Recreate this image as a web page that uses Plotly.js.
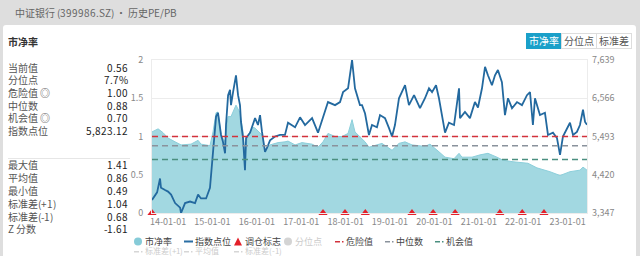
<!DOCTYPE html>
<html><head><meta charset="utf-8">
<script src="https://cdn.plot.ly/plotly-3.0.1.min.js"></script>
<style>
@font-face{font-family:"CJKTight";src:local("Noto Sans CJK SC"),local("Noto Sans CJK SC Regular"),local("NotoSansCJKsc-Regular");ascent-override:90%;descent-override:12%;line-gap-override:0%;font-weight:400}
@font-face{font-family:"CJKTight";src:local("Noto Sans CJK SC Bold"),local("NotoSansCJKsc-Bold"),local("Noto Sans CJK SC");ascent-override:90%;descent-override:12%;line-gap-override:0%;font-weight:700}
body{margin:0;width:640px;height:256px;overflow:hidden;background:#dedede;font-family:"CJKTight","Noto Sans CJK SC","Noto Sans",sans-serif;position:relative}
#hdr{position:absolute;left:15px;top:7px;font-size:10px;color:#666;white-space:nowrap;line-height:12px}
#card{position:absolute;left:3px;top:25px;width:633px;height:240px;background:#fff;border-radius:3px}
#chart{position:absolute;left:0;top:0;width:640px;height:256px;z-index:2}
#ttl{position:absolute;left:8px;top:36px;font-size:10px;font-weight:bold;color:#333;z-index:3;line-height:12px}
.btns{position:absolute;top:33px;left:527px;z-index:3;display:flex;font-size:10px}
.btns div{height:14px;line-height:14px;width:34px;text-align:center;border:1px solid #ddd;color:#555;background:#fff;margin-left:-1px}
.btns div.on{background:#1aa0c9;color:#fff;border-color:#1aa0c9}
.st{position:absolute;left:8px;width:120px;font-size:10px;z-index:3;height:12px;line-height:12px}
.st span.l{color:#555}.st span.v{position:absolute;right:0;color:#222}
#sep{position:absolute;left:8px;top:158px;width:122px;height:1px;background:#e6e6e6;z-index:3}
.lg{position:absolute;z-index:3;white-space:nowrap;height:9px;line-height:9px;padding-left:12px}
.lg svg{position:absolute}
</style></head><body>
<div id="card"></div>
<div id="hdr">中证银行 (399986.SZ) · 历史PE/PB</div>
<div id="ttl">市净率</div>
<div class="btns"><div class="on">市净率</div><div>分位点</div><div>标准差</div></div>
<div id="sep"></div>
<div id="chart"></div>
<script>
// ---- data ----
const pbDates = ['2013-08-22','2013-10-11','2013-11-21','2014-01-01','2014-02-28','2014-04-18','2014-07-09','2014-09-05','2014-09-29','2014-12-12',
 '2015-01-06','2015-01-31','2015-02-16','2015-03-13','2015-04-15','2015-05-10','2015-06-03','2015-07-14','2015-08-16','2015-09-10','2015-09-26','2015-10-21','2015-12-01','2015-12-18',
 '2016-02-13','2016-03-09','2016-04-19','2016-06-24','2016-08-20','2016-09-14','2016-11-11','2017-01-07','2017-03-31','2017-05-19','2017-06-29','2017-08-09','2017-10-06','2017-12-02',
 '2018-01-21','2018-02-23','2018-03-19','2018-04-29','2018-06-10','2018-07-12','2018-10-27','2019-01-18','2019-03-16','2019-05-05','2019-07-01','2019-10-16','2019-11-26',
 '2020-02-08','2020-03-29','2020-06-11','2020-07-22','2020-08-15','2020-11-06','2021-01-11','2021-03-17','2021-05-30','2021-07-19','2021-10-09',
 '2022-02-09','2022-04-24','2022-08-09','2022-10-31','2023-01-21','2023-04-13','2023-05-08','2023-06-10'];
const pbValues = [1.06,1.10,1.05,0.98,0.93,0.89,0.90,0.95,0.90,0.88,
 1.06,1.31,1.32,1.02,0.93,1.26,1.26,1.41,1.31,1.06,0.76,1.02,1.12,1.11,
 1.02,0.82,0.89,0.92,0.93,0.94,0.89,0.92,0.90,0.86,0.93,1.04,1.00,1.00,
 1.04,1.22,1.06,1.00,0.93,0.86,0.91,0.82,0.91,0.93,0.89,0.87,0.90,
 0.80,0.73,0.71,0.78,0.73,0.73,0.76,0.78,0.73,0.69,0.67,
 0.65,0.59,0.54,0.49,0.54,0.56,0.60,0.56];

const idxDates = ['2013-08-22','2013-09-08','2013-10-03','2013-10-27','2013-11-04','2013-12-07','2014-01-01','2014-01-26','2014-02-28','2014-04-10','2014-04-18',
 '2014-05-21','2014-07-01','2014-08-11','2014-09-05','2014-09-29','2014-11-10','2014-12-12','2015-01-06','2015-01-31','2015-02-16','2015-03-13','2015-03-29','2015-04-15',
 '2015-04-23','2015-05-10','2015-05-26','2015-06-03','2015-06-20','2015-07-14','2015-07-31','2015-08-16','2015-08-24','2015-09-10','2015-09-26','2015-10-05','2015-11-07',
 '2015-12-01','2015-12-18','2016-01-11','2016-01-28','2016-02-13','2016-03-09','2016-03-25','2016-04-19','2016-05-30','2016-07-10','2016-08-20','2016-09-14','2016-11-11',
 '2016-12-22','2017-02-01','2017-03-31','2017-05-19','2017-06-29','2017-08-09','2017-10-06','2017-11-16','2017-12-11','2018-01-21','2018-02-23','2018-03-19','2018-04-29',
 '2018-05-16','2018-06-10','2018-07-12','2018-08-06','2018-09-16','2018-10-11','2018-11-21','2018-12-24','2019-01-18','2019-02-11','2019-03-16','2019-05-05','2019-06-06',
 '2019-07-18','2019-09-05','2019-10-16','2019-11-18','2019-12-13','2020-01-15','2020-02-08','2020-03-04','2020-03-29','2020-04-30','2020-06-11','2020-07-22','2020-07-30',
 '2020-09-09','2020-10-20','2020-11-30','2020-12-25','2021-01-27','2021-02-21','2021-03-17','2021-04-19','2021-05-14','2021-06-07','2021-07-10','2021-08-04','2021-08-29',
 '2021-10-01','2021-11-11','2021-12-22','2022-02-01','2022-02-26','2022-03-22','2022-04-08','2022-05-19','2022-06-29','2022-07-24','2022-09-03','2022-10-06','2022-10-31',
 '2022-11-24','2022-12-27','2023-01-21','2023-02-15','2023-03-19','2023-04-13','2023-05-08','2023-05-25','2023-06-10'];
const idxValues = [3712,3798,3926,4313,4055,3991,3948,3862,3626,3497,3347,
 3626,3669,3626,3862,3755,3755,4055,4978,6051,6158,5536,5343,5021,
 5815,6652,6802,6373,6738,7210,6652,6373,5901,5450,4549,5450,5600,
 5815,6008,5815,6094,5622,5064,5171,5386,5493,5536,5536,5879,5751,
 6030,5815,6008,5600,6008,6459,6373,6459,6738,6845,7639,6845,6373,
 6373,6137,5536,5815,5751,6094,6008,5729,5493,5815,6566,6931,6373,
 6652,6287,6566,6845,6738,6931,6566,6094,5600,5879,5815,6845,6008,
 6180,6008,6459,6308,6845,7446,7210,6931,7210,7360,7017,6094,6566,
 6287,6459,6373,6652,6738,5815,6566,6094,6158,5536,5600,5450,4978,
 5493,5729,5879,5536,5622,5815,6244,5901,5823.12];

const rebalDates = ['2013-08-22','2017-06-29','2017-12-27','2018-06-12','2019-07-01','2019-12-22','2020-06-20','2021-06-23','2021-12-24','2022-06-21'];

const dangerValue = 1.00, medianValue = 0.88, chanceValue = 0.70;
const xTickVals = ['2014-01-01','2015-01-01','2016-01-01','2017-01-01','2018-01-01','2019-01-01','2020-01-01','2021-01-01','2022-01-01','2023-01-01'];
const xTickText = ['14-01-01','15-01-01','16-01-01','17-01-01','18-01-01','19-01-01','20-01-01','21-01-01','22-01-01','23-01-01'];
const yTickVals = [0,0.5,1,1.5,2];
const yTickText = ['0','0.5','1','1.5','2'];
const y2TickVals = [3347,4420,5493,6566,7639];
const y2TickText = ['3,347','4,420','5,493','6,566','7,639'];

const statLabels = ['当前值','分位点','危险值 ◎','中位数','机会值 ◎','指数点位','最大值','平均值','最小值','标准差(+1)','标准差(-1)','Z 分数'];
const statValues = ['0.56','7.7%','1.00','0.88','0.70','5,823.12','1.41','0.86','0.49','1.04','0.68','-1.61'];
const statTops = [62,74,87,100,112,125,159,172,185,198,211,223];

const legendLabels = ['市净率','指数点位','调仓标志','分位点','危险值','中位数','机会值','标准差(+1)','平均值','标准差(-1)'];

statLabels.forEach((l,i)=>{
  const d=document.createElement('div');d.className='st';d.style.top=statTops[i]+'px';
  d.innerHTML='<span class="l">'+l+'</span><span class="v">'+statValues[i]+'</span>';
  document.body.appendChild(d);
});

// legend (positions/styles only)
const legendStyle = [
 {x:133,y:237,fs:9,sym:'circle',c:'#86cbd8',tc:'#444'},
 {x:183,y:237,fs:9,sym:'line',c:'#2a6ea4',tc:'#444'},
 {x:233,y:237,fs:9,sym:'tri',c:'#e3202a',tc:'#444'},
 {x:283,y:237,fs:9,sym:'circle',c:'#d4d4d4',tc:'#cccccc'},
 {x:334,y:237,fs:9,sym:'dashdot',c:'#d2323c',tc:'#444'},
 {x:384,y:237,fs:9,sym:'dashdot',c:'#8a929c',tc:'#444'},
 {x:434,y:237,fs:9,sym:'dashdot',c:'#4b8f80',tc:'#444'},
 {x:133,y:246.5,fs:8,sym:'dashdot',c:'#d6d6d6',tc:'#cccccc'},
 {x:183,y:246.5,fs:8,sym:'dashdot',c:'#d6d6d6',tc:'#cccccc'},
 {x:233,y:246.5,fs:8,sym:'dashdot',c:'#d6d6d6',tc:'#cccccc'}
];
legendLabels.forEach((t,i)=>{
  const it=legendStyle[i];
  const d=document.createElement('div');d.className='lg';
  d.style.left=it.x+'px';d.style.top=it.y+'px';d.style.color=it.tc;d.style.fontSize=it.fs+'px';
  let s='';
  if(it.sym==='circle') s='<circle cx="5" cy="4.5" r="4" fill="'+it.c+'"/>';
  if(it.sym==='line') s='<rect x="1" y="3.5" width="9" height="2" fill="'+it.c+'"/>';
  if(it.sym==='tri') s='<polygon points="5,0.5 9,8.5 1,8.5" fill="'+it.c+'"/>';
  if(it.sym==='dashdot') s='<rect x="1" y="4" width="5" height="1.5" fill="'+it.c+'"/><rect x="8" y="4" width="1.5" height="1.5" fill="'+it.c+'"/>';
  d.innerHTML='<svg width="11" height="9" style="left:0;top:0">'+s+'</svg>'+t;
  document.body.appendChild(d);
});

const traces = [
 {x:pbDates,y:pbValues,type:'scatter',mode:'lines',fill:'tozeroy',fillcolor:'#a2d8e1',line:{color:'#8ccfdb',width:1},hoverinfo:'skip'},
 {x:idxDates,y:idxValues,yaxis:'y2',type:'scatter',mode:'lines',line:{color:'#23699f',width:1.8},hoverinfo:'skip'},
 {x:rebalDates,y:rebalDates.map(()=>0),type:'scatter',mode:'markers',marker:{symbol:'triangle-up',size:8,color:'#e3202a'},cliponaxis:false,hoverinfo:'skip'}
];
function hl(v,c){return {type:'line',xref:'paper',x0:0,x1:1,yref:'y',y0:v,y1:v,line:{color:c,width:1.5,dash:'6px,4px'}};}
const layout = {
 width:640,height:256,margin:{l:152,r:53,t:60,b:43},
 paper_bgcolor:'rgba(0,0,0,0)',plot_bgcolor:'rgba(0,0,0,0)',showlegend:false,
 font:{family:'"Noto Sans CJK SC","Noto Sans",sans-serif',size:9,color:'#888'},
 xaxis:{type:'date',range:['2013-08-22','2023-06-10'],tickvals:xTickVals,ticktext:xTickText,showgrid:false,zeroline:false,
   showline:true,mirror:true,linecolor:'#ececec',linewidth:1,tickfont:{size:9,color:'#888'},ticks:''},
 yaxis:{range:[0,2],tickvals:yTickVals,ticktext:yTickText,gridcolor:'#ececec',zeroline:false,showline:true,mirror:true,linecolor:'#ececec',
   tickfont:{size:9,color:'#888'},ticks:'',ticklabelstandoff:6},
 yaxis2:{overlaying:'y',side:'right',range:[3347,7639],tickvals:y2TickVals,ticktext:y2TickText,showgrid:false,zeroline:false,
   tickfont:{size:9,color:'#888'},ticks:'',ticklabelstandoff:4},
 shapes:[hl(dangerValue,'#d2323c'),hl(medianValue,'#8a929c'),hl(chanceValue,'#4b8f80')]
};
Plotly.newPlot('chart',traces,layout,{staticPlot:true,displayModeBar:false});
</script>
</body></html>
